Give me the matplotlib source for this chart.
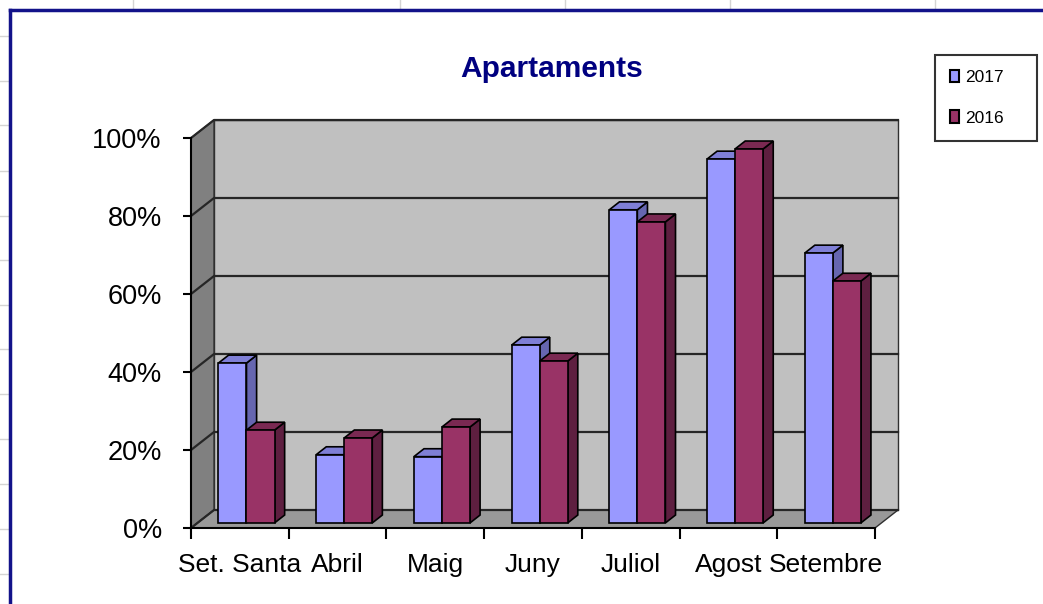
import numpy as np
import matplotlib
matplotlib.use("Agg")
import matplotlib.pyplot as plt
from matplotlib.patches import Polygon, Rectangle, Patch
from matplotlib.lines import Line2D

plt.rcParams['font.family'] = ['Liberation Sans', 'DejaVu Sans']

# data
categories = ["Set. Santa", "Abril", "Maig", "Juny", "Juliol", "Agost", "Setembre"]
series_names = ["2017", "2016"]
vals_2017 = [41.0, 17.5, 17.0, 45.6, 80.3, 93.3, 69.2]
vals_2016 = [23.8, 21.8, 24.6, 41.5, 77.2, 95.9, 62.0]
yticks = [0, 20, 40, 60, 80, 100]

# colours: front, top, side
col_2017 = ("#9999ff", "#7f7fd6", "#6666b0")
col_2016 = ("#993366", "#7a2952", "#5e1f40")

W, H = 1043, 604
fig = plt.figure(figsize=(W / 100, H / 100), dpi=100, facecolor="white")

# pixel mapping of the front plane of the plot
x0px, y0px = 191, 528
px_x = (875 - 191) / 7
px_y = (528 - 138) / 100
xlim = (-0.3, 7.5)
ylim = (-3, 108)
left = (x0px + xlim[0] * px_x) / W
right = (x0px + xlim[1] * px_x) / W
bottom = (H - (y0px - ylim[0] * px_y)) / H
top = (H - (y0px - ylim[1] * px_y)) / H
ax = fig.add_axes([left, bottom, right - left, top - bottom])
ax.set_xlim(*xlim)
ax.set_ylim(*ylim)
ax.patch.set_alpha(0)

n = len(categories)
Dx, Dy = 23 / px_x, 18 / px_y  # full depth of the box

# walls and floor
ax.add_patch(Polygon([(Dx, Dy), (n + Dx, Dy), (n + Dx, 100 + Dy), (Dx, 100 + Dy)],
                     closed=True, fc="#c0c0c0", ec="#303030", lw=1, zorder=1))
ax.add_patch(Polygon([(0, 0), (Dx, Dy), (Dx, 100 + Dy), (0, 100)],
                     closed=True, fc="#808080", ec="#303030", lw=1, zorder=1))
ax.add_patch(Polygon([(0, 0), (n, 0), (n + Dx, Dy), (Dx, Dy)],
                     closed=True, fc="#999999", ec="#303030", lw=1, zorder=1))

# gridlines on the back and side wall
for v in yticks:
    ax.plot([0, Dx, n + Dx], [v, v + Dy, v + Dy], color="#262626", lw=1.6, zorder=1.5,
            clip_on=False)

# 3D bars
gap = 0.215
bw = 0.287
f0, f1 = 0.28, 0.72
z = 3
for i in range(n):
    for s, (vals, cols) in enumerate([(vals_2017, col_2017), (vals_2016, col_2016)]):
        v = vals[i]
        xb = i + gap + s * bw + f0 * Dx
        yb = f0 * Dy
        ddx, ddy = (f1 - f0) * Dx, (f1 - f0) * Dy
        side = [(xb + bw, yb), (xb + bw + ddx, yb + ddy), (xb + bw + ddx, yb + v + ddy), (xb + bw, yb + v)]
        topf = [(xb, yb + v), (xb + bw, yb + v), (xb + bw + ddx, yb + v + ddy), (xb + ddx, yb + v + ddy)]
        ax.add_patch(Polygon(side, closed=True, fc=cols[2], ec="black", lw=1.2, zorder=z))
        ax.add_patch(Polygon(topf, closed=True, fc=cols[1], ec="black", lw=1.2, zorder=z))
        ax.add_patch(Rectangle((xb, yb), bw, v, fc=cols[0], ec="black", lw=1.2, zorder=z))
        z += 0.01

# axes
for sp in ["top", "right"]:
    ax.spines[sp].set_visible(False)
ax.spines["left"].set_position(("data", 0))
ax.spines["bottom"].set_position(("data", 0))
ax.spines["left"].set_bounds(0, 100)
ax.spines["bottom"].set_bounds(0, n)
for sp in ["left", "bottom"]:
    ax.spines[sp].set_linewidth(1.5)
    ax.spines[sp].set_zorder(5)

ax.set_yticks(yticks)
ax.set_yticklabels([f"{v}%" for v in yticks], fontsize=19.5)
ax.tick_params(axis="y", length=6, width=1.5, pad=15, colors="black")
ax.set_xticks(range(n + 1))
ax.set_xticklabels([])
ax.tick_params(axis="x", which="major", length=8, width=1.5)
ax.set_xticks(np.arange(n) + 0.5, minor=True)
ax.set_xticklabels(categories, minor=True, fontsize=19)
ax.tick_params(axis="x", which="minor", length=0, pad=18)

fig.text(552 / W, 1 - 69 / H, "Apartaments", ha="center", va="center",
         fontsize=21.5, fontweight="bold", color="#000080")

handles = [Patch(fc=col_2017[0], ec="black", lw=1.5), Patch(fc=col_2016[0], ec="black", lw=1.5)]
leg = fig.legend(handles, series_names, loc="upper left",
                 bbox_to_anchor=(935 / W, (H - 142) / H, 102 / W, 87 / H), mode="expand",
                 fontsize=12.5, frameon=True, fancybox=False, edgecolor="black",
                 borderpad=0.85, handlelength=0.55, handleheight=0.75, handletextpad=0.35,
                 labelspacing=1.45, borderaxespad=0)
leg.get_frame().set_linewidth(1.5)

# spreadsheet cells around the chart and the chart border
for xv in [133, 400, 565, 730, 935]:
    fig.add_artist(Line2D([xv / W, xv / W], [1, 1 - 9 / H], color="#d4d4d4", lw=1))
for yv in [36, 81, 125, 171, 216, 260, 305, 349, 394, 439, 484, 529, 574]:
    fig.add_artist(Line2D([0, 9 / W], [1 - yv / H, 1 - yv / H], color="#d4d4d4", lw=1))
fig.add_artist(Line2D([10 / W, 10 / W], [0, 1 - 10 / H], color="#12128a", lw=2.5))
fig.add_artist(Line2D([10 / W, 1], [1 - 10 / H, 1 - 10 / H], color="#12128a", lw=2.5))

fig.savefig("out.png", dpi=100, facecolor="white")
